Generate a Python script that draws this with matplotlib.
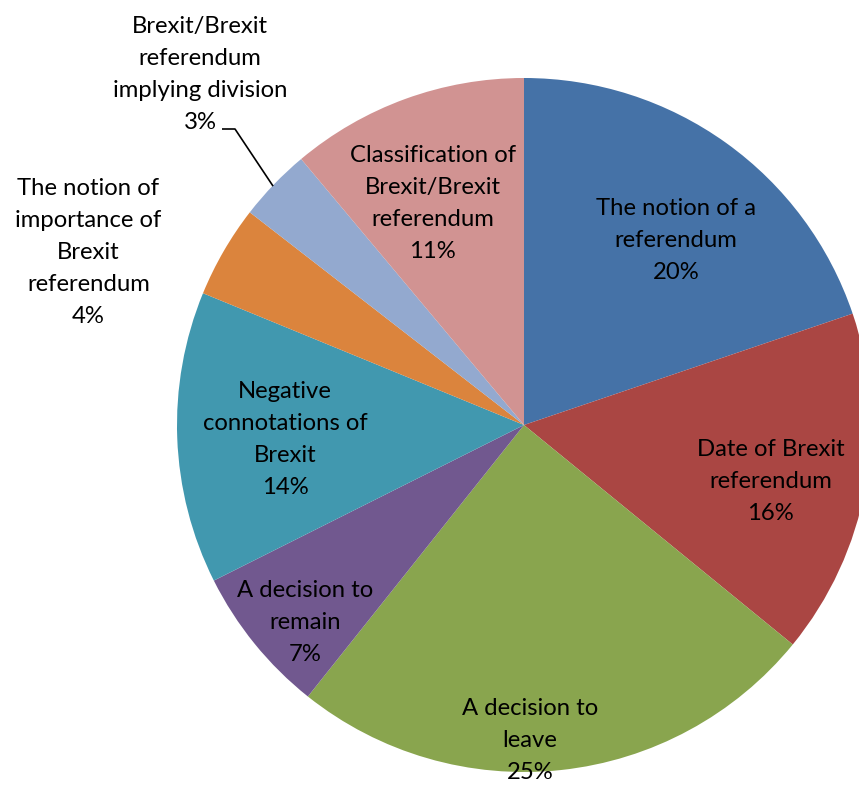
import numpy as np
import matplotlib
matplotlib.use("Agg")
import matplotlib.pyplot as plt

# Categories and shares (percent), clockwise from 12 o'clock
categories = [
    "The notion of a\nreferendum",
    "Date of Brexit\nreferendum",
    "A decision to\nleave",
    "A decision to\nremain",
    "Negative\nconnotations of\nBrexit",
    "The notion of\nimportance of\nBrexit\nreferendum",
    "Brexit/Brexit\nreferendum\nimplying division",
    "Classification of\nBrexit/Brexit\nreferendum",
]
shares = [19.8, 16.1, 24.8, 6.9, 13.6, 4.3, 3.4, 11.1]

colors = ["#4572A7", "#AA4643", "#89A54E", "#71588F",
          "#4198AF", "#DB843D", "#93A9CF", "#D19392"]

# radial position of each label (fraction of radius) and angular nudge (deg)
label_dist = [0.69, 0.73, 0.91, 0.85, 0.69, 1.35, 1.375, 0.69]
label_nudge = [-3.8, -2.7, -5.0, 3.0, 1.4, 8.5, -3.3, 2.4]

plt.rcParams["font.family"] = ["Lato", "DejaVu Sans"]

W, H = 859, 785
fig = plt.figure(figsize=(W / 100, H / 100), dpi=100)
ax = fig.add_axes([0, 0, 1, 1])

cx, cy, R = 524, H - 425, 347
wedges, _ = ax.pie(shares, colors=colors, startangle=90, counterclock=False,
                   center=(cx, cy), radius=R, frame=True,
                   wedgeprops=dict(linewidth=0))
ax.set_xlim(0, W)
ax.set_ylim(0, H)
ax.set_aspect("auto")
ax.axis("off")

for i, (w, name, pct) in enumerate(zip(wedges, categories, shares)):
    mid = np.deg2rad((w.theta1 + w.theta2) / 2 + label_nudge[i])
    d = label_dist[i] * R
    x = cx + d * np.cos(mid)
    y = cy + d * np.sin(mid)
    ax.text(x, y, f"{name}\n{pct:.0f}%", ha="center", va="center",
            fontsize=17.2, color="black", linespacing=1.65)

# leader line for the small slice
w = wedges[6]
mid = np.deg2rad((w.theta1 + w.theta2) / 2)
px, py = cx + 0.98 * R * np.cos(mid) - 6, cy + 0.98 * R * np.sin(mid) + 3
ax.plot([222, 235, px], [H - 129, H - 129, py], color="black", lw=1.2,
        solid_capstyle="butt")

fig.savefig("out.png", dpi=100)
